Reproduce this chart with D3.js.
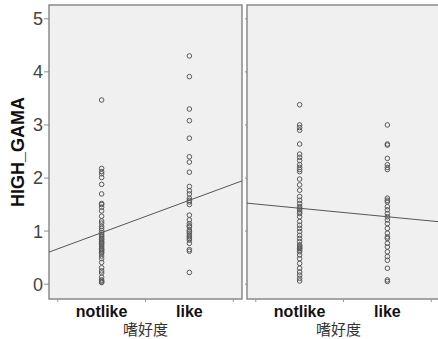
<!DOCTYPE html>
<html>
<head>
<meta charset="utf-8">
<script src="https://cdn.jsdelivr.net/npm/d3@7"></script>
<style>
  body { margin: 0; background: #fff; }
  svg { display: block; }
</style>
</head>
<body>
<div id="chart"></div>
<script>
// categories on the x axis (1 = notlike, 2 = like)
var categories = ["notlike", "like"];
var yTicks = [0, 1, 2, 3, 4, 5];
var yLabel = "HIGH_GAMA";
var xLabel = "嗜好度";

// HIGH_GAMA values, one array per panel and category
var leftNotlike = [3.47, 2.18, 2.12, 2.08, 2.01, 1.88, 1.70, 1.52, 1.50, 1.45, 1.38, 1.28, 1.19, 1.15,
  1.09, 1.05, 1.01, 0.97, 0.94, 0.91, 0.89, 0.86, 0.84, 0.81, 0.79, 0.77, 0.75, 0.72, 0.70, 0.67,
  0.65, 0.63, 0.60, 0.58, 0.53, 0.48, 0.41, 0.31, 0.25, 0.21, 0.13, 0.08, 0.06, 0.04, 0.03];
var leftLike = [4.30, 3.91, 3.30, 3.08, 2.75, 2.40, 2.30, 2.11, 1.84, 1.76, 1.70, 1.62, 1.58, 1.55,
  1.50, 1.30, 1.21, 1.14, 1.10, 1.08, 1.02, 0.99, 0.96, 0.92, 0.89, 0.86, 0.83, 0.77, 0.65, 0.62, 0.22];
var rightNotlike = [3.38, 3.00, 2.95, 2.90, 2.64, 2.45, 2.39, 2.33, 2.25, 2.20, 2.16, 2.12, 1.98, 1.87,
  1.77, 1.65, 1.58, 1.52, 1.46, 1.43, 1.40, 1.36, 1.33, 1.27, 1.18, 1.11, 1.05, 0.99, 0.92, 0.86,
  0.80, 0.74, 0.72, 0.70, 0.68, 0.67, 0.64, 0.61, 0.55, 0.48, 0.39, 0.30, 0.23, 0.17, 0.11, 0.06];
var rightLike = [3.00, 2.64, 2.62, 2.37, 2.25, 2.20, 2.16, 1.62, 1.58, 1.55, 1.46, 1.40, 1.33, 1.27,
  1.21, 1.14, 1.05, 0.96, 0.89, 0.86, 0.77, 0.70, 0.61, 0.52, 0.45, 0.30, 0.08, 0.05];

// linear fit lines [intercept, slope] per panel
var fitLeft = [0.36, 0.61];
var fitRight = [1.59, -0.16];

var width = 438, height = 339;
var plotTop = 5, plotBottom = 299;

var svg = d3.select("#chart").append("svg")
    .attr("width", width)
    .attr("height", height);

var y = d3.scaleLinear()
    .domain([-0.28, 5.26])
    .range([plotBottom, plotTop]);

var panels = [
  {x0: 49, x1: 242, series: [leftNotlike, leftLike], fit: fitLeft},
  {x0: 247, x1: 440, series: [rightNotlike, rightLike], fit: fitRight}
];

panels.forEach(function(p, pi) {
  var x = d3.scaleLinear().domain([0.4, 2.6]).range([p.x0, p.x1]);
  var g = svg.append("g");

  // panel background
  g.append("rect")
    .attr("x", p.x0).attr("y", plotTop)
    .attr("width", p.x1 - p.x0).attr("height", plotBottom - plotTop)
    .attr("fill", "#f0f0f0")
    .attr("stroke", "#8a8a8a")
    .attr("stroke-width", 1.5);

  // small ticks on the left side of each panel
  g.selectAll(".ytick").data(yTicks).enter()
    .append("line")
      .attr("x1", p.x0 - (pi === 0 ? 5 : 2)).attr("x2", p.x0)
      .attr("y1", function(d) { return y(d); })
      .attr("y2", function(d) { return y(d); })
      .attr("stroke", "#8a8a8a");

  // small ticks between categories on the bottom
  g.selectAll(".xtick").data([0.5, 1.5, 2.5]).enter()
    .append("line")
      .attr("x1", function(d) { return x(d); })
      .attr("x2", function(d) { return x(d); })
      .attr("y1", plotBottom).attr("y2", plotBottom + 3)
      .attr("stroke", "#999");

  // points
  p.series.forEach(function(vals, ci) {
    g.selectAll(".pt" + ci).data(vals).enter()
      .append("circle")
        .attr("cx", x(ci + 1))
        .attr("cy", function(d) { return y(d); })
        .attr("r", 2.3)
        .attr("fill", "none")
        .attr("stroke", "#5a5a5a")
        .attr("stroke-width", 1);
  });

  // fit line
  var dom = x.domain();
  g.append("line")
    .attr("x1", x(dom[0])).attr("y1", y(p.fit[0] + p.fit[1] * dom[0]))
    .attr("x2", x(dom[1])).attr("y2", y(p.fit[0] + p.fit[1] * dom[1]))
    .attr("stroke", "#555")
    .attr("stroke-width", 1);

  // category labels
  g.selectAll(".cat").data(categories).enter()
    .append("text")
      .attr("x", function(d, i) { return x(i + 1); })
      .attr("y", 317)
      .attr("text-anchor", "middle")
      .style("font-family", "'Liberation Sans', Arial, sans-serif")
      .style("font-weight", "bold")
      .style("font-size", "16px")
      .attr("fill", "#111")
      .text(function(d) { return d; });

  g.append("text")
    .attr("x", (p.x0 + Math.min(p.x1, 436)) / 2 + (pi === 0 ? 0 : -3))
    .attr("y", 335)
    .attr("text-anchor", "middle")
    .style("font-family", "'Noto Sans CJK SC', sans-serif")
    .style("font-size", "15px")
    .attr("fill", "#333")
    .text(xLabel);
});

// y tick labels
svg.selectAll(".ylab").data(yTicks).enter()
  .append("text")
    .attr("x", 43)
    .attr("y", function(d) { return y(d); })
    .attr("dy", "0.36em")
    .attr("text-anchor", "end")
    .style("font-family", "'Liberation Sans', Arial, sans-serif")
    .style("font-size", "18px")
    .attr("fill", "#444")
    .text(function(d) { return d; });

svg.append("text")
  .attr("transform", "translate(" + [24, (plotTop + plotBottom) / 2] + ") rotate(-90)")
  .attr("text-anchor", "middle")
  .style("font-family", "'Liberation Sans', Arial, sans-serif")
  .style("font-weight", "bold")
  .style("font-size", "18px")
  .attr("fill", "#111")
  .text(yLabel);
</script>
</body>
</html>
